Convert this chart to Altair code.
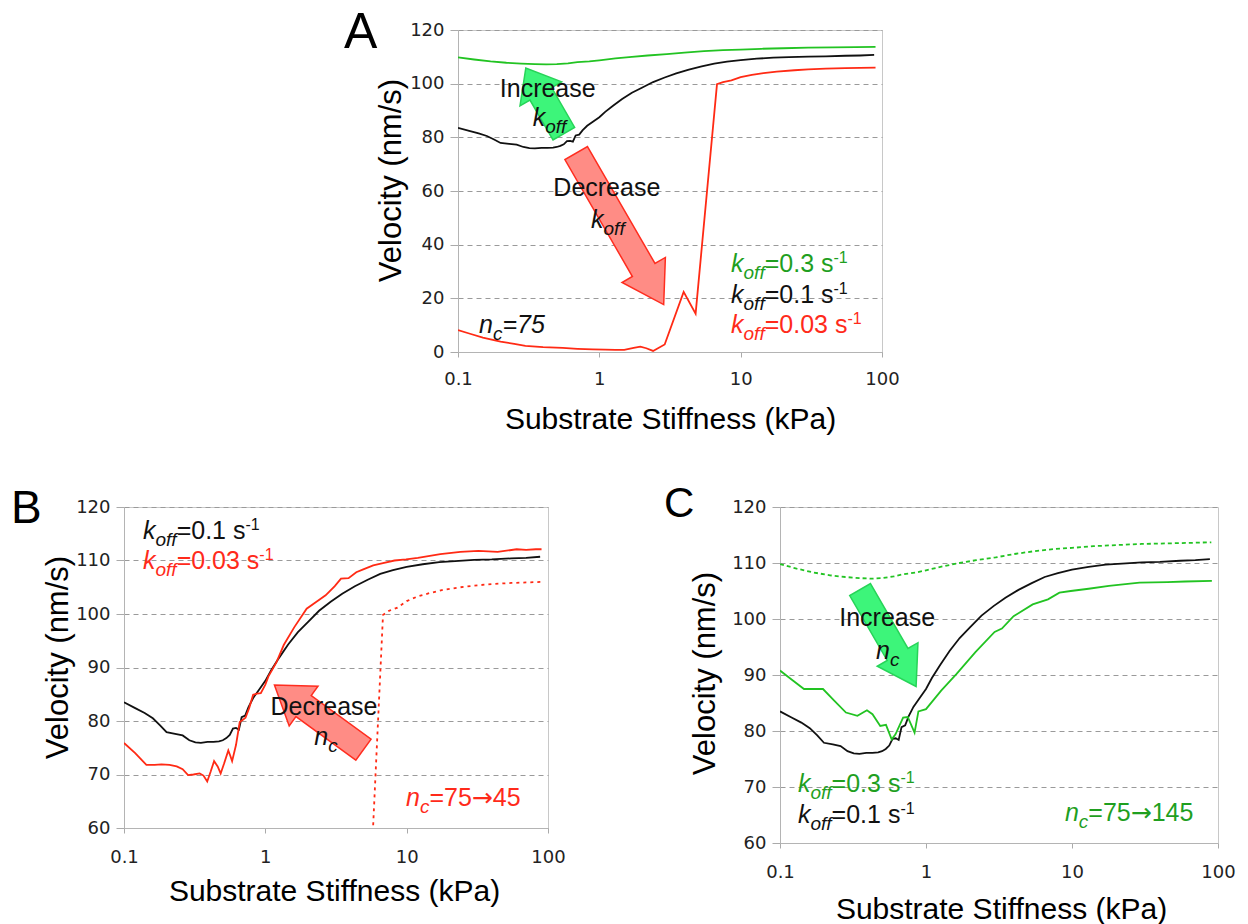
import altair as alt
import pandas as pd

# ---------------- data ----------------
# koff = 0.1 s-1, nc = 75  (black, all panels)
stiff_black = [0.1, 0.12, 0.14, 0.16, 0.18, 0.2, 0.23, 0.26, 0.29, 0.32, 0.35, 0.39, 0.43, 0.47,
               0.5, 0.53, 0.56, 0.59, 0.62, 0.65, 0.68, 0.72, 0.76, 0.82, 0.9, 1.0, 1.1, 1.25,
               1.45, 1.7, 2.0, 2.4, 2.9, 3.5, 4.3, 5.3, 6.5, 8.0, 10, 13, 17, 22, 30, 40, 55, 70, 88]
vel_black = [83.5, 82.4, 81.5, 80.5, 79.2, 77.9, 77.6, 77.3, 76.4, 76.0, 75.9, 76.1, 76.1, 76.2,
             76.4, 76.8, 77.4, 78.6, 78.7, 78.4, 80.7, 81.0, 82.6, 84.3, 85.8, 87.5, 89.5, 91.8,
             94.3, 96.6, 98.5, 100.6, 102.3, 103.8, 105.2, 106.4, 107.5, 108.2, 108.8, 109.3,
             109.7, 109.9, 110.1, 110.2, 110.4, 110.5, 110.7]

# koff = 0.3 s-1, nc = 75 (green; solid in A, dashed in C)
stiff_g75 = [0.1, 0.13, 0.17, 0.22, 0.28, 0.35, 0.42, 0.5, 0.6, 0.7, 0.85, 1.0, 1.3, 1.7, 2.2,
             3.0, 4.0, 5.5, 7.5, 10, 14, 20, 30, 45, 65, 90]
vel_g75 = [109.8, 109.0, 108.3, 107.8, 107.5, 107.3, 107.2, 107.3, 107.6, 108.0, 108.3, 108.7,
           109.4, 110.0, 110.5, 111.0, 111.6, 112.1, 112.5, 112.7, 113.0, 113.2, 113.4, 113.5,
           113.6, 113.7]

# koff = 0.03 s-1, nc = 75 (red; solid in A, dotted in B)
stiff_r75 = [0.1, 0.12, 0.15, 0.2, 0.25, 0.3, 0.4, 0.55, 0.7, 0.9, 1.1, 1.3, 1.5, 1.75, 1.95,
             2.15, 2.4, 2.9, 3.95, 4.8, 6.8, 7.5, 8.6, 10, 12, 14.5, 18, 24, 30, 40, 55, 70, 90]
vel_r75 = [8.2, 6.9, 5.4, 3.9, 3.0, 2.3, 1.8, 1.5, 1.2, 1.0, 0.9, 0.8, 0.8, 1.5, 2.0,
           1.4, 0.4, 2.8, 22.4, 14.3, 99.8, 100.6, 101.2, 102.4, 103.3, 103.9, 104.5, 105.0,
           105.3, 105.6, 105.8, 105.9, 106.0]

# koff = 0.03 s-1, nc = 45 (red solid, B)
stiff_r45 = [0.1, 0.12, 0.144, 0.165, 0.184, 0.21, 0.236, 0.26, 0.284, 0.31, 0.343, 0.365, 0.388,
             0.41, 0.434, 0.46, 0.483, 0.51, 0.547, 0.565, 0.582, 0.62, 0.659, 0.69, 0.724, 0.77,
             0.82, 0.87, 0.929, 1.0, 1.05, 1.2, 1.35, 1.6, 1.96, 2.3, 2.67, 3.1, 3.43, 3.88, 4.4,
             4.98, 5.8, 6.8, 8.2, 9.9, 12, 17.3, 24, 32.2, 44, 60, 70, 82, 90]
vel_r45 = [75.9, 74.0, 71.8, 71.8, 71.9, 71.8, 71.5, 71.0, 69.9, 70.0, 70.2, 69.8, 68.7,
           70.5, 72.5, 71.5, 70.2, 72.0, 74.5, 73.5, 72.5, 75.5, 79.8, 80.2, 80.6, 82.5,
           84.9, 85.1, 85.2, 86.8, 88.3, 91.0, 94.2, 97.5, 101.0, 102.3, 103.5, 105.2, 106.6,
           106.7, 107.8, 108.4, 109.1, 109.5, 110.0, 110.2, 110.5, 111.2, 111.6, 111.8, 111.6,
           112.1, 112.0, 112.1, 112.1]

# koff = 0.3 s-1, nc = 145 (green solid, C)
stiff_g145 = [0.1, 0.12, 0.146, 0.17, 0.197, 0.236, 0.283, 0.339, 0.394, 0.43, 0.486, 0.532,
              0.582, 0.618, 0.697, 0.75, 0.835, 0.887, 1.0, 1.27, 1.62, 2.18, 2.95, 3.31, 3.98,
              5.38, 6.85, 8.2, 9.8, 13, 17.9, 29, 45, 59.6, 90.8]
vel_g145 = [90.8, 89.2, 87.5, 87.5, 87.5, 85.4, 83.3, 82.7, 83.7, 83.0, 80.9, 81.1,
            78.5, 79.4, 82.4, 82.5, 79.7, 83.5, 83.9, 87.2, 90.2, 94.1, 97.7, 98.3, 100.5,
            102.6, 103.5, 104.7, 105.0, 105.4, 105.9, 106.5, 106.6, 106.7, 106.8]

x_ticks = [0.1, 1, 10, 100]
y_ticks_a = [0, 20, 40, 60, 80, 100, 120]
y_ticks_bc = [60, 70, 80, 90, 100, 110, 120]

# ---------------- style ----------------
FONT = "Liberation Sans"
TICKFONT = "DejaVu Sans"
BLACK = "#111111"
GREEN = "#22c322"
GREEN_TXT = "#1f9f1f"
RED = "#ff2a14"
RED_TXT = "#ff2a1a"
GFILL, GSTROKE = "#3df57a", "#27d458"
RFILL, RSTROKE = "#ff8c85", "#ff2d1f"
F, SUB, SUP = 25, 19, 16

W = {'k': .5, 'o': .556, 'f': .278, '=': .584, '.': .278, ' ': .278, 's': .5, '-': .333,
     'n': .556, 'c': .5, '\u2192': .838}
for d in '0123456789':
    W[d] = .556


def tw(t, size):
    return sum(W.get(ch, .556) for ch in t) * size


def arrow_path(L, wb, hl, wh):
    s = L / 2.0
    b, h, hx = wb / 2.0 / s, wh / 2.0 / s, 1 - hl / s
    return (f"M -1 {-b:.3f} L {hx:.3f} {-b:.3f} L {hx:.3f} {-h:.3f} L 1 0 "
            f"L {hx:.3f} {h:.3f} L {hx:.3f} {b:.3f} L -1 {b:.3f} Z")


KIND = {  # size, dy, style, font
    'n': (F, 0, 'normal', FONT),
    'i': (F, 0, 'italic', FONT),
    'sub': (SUB, 7, 'italic', FONT),
    'sup': (SUP, -9, 'normal', FONT),
    'arr': (F, 0, 'normal', TICKFONT),
}


def panel(w, h, ydom, yvals, xtitle_pos, ytitle_pos, xlabpad, lines, arrows, labels, letter):
    ax_x = alt.Axis(values=x_ticks, format='~g', title='Substrate Stiffness (kPa)',
                    titleX=xtitle_pos[0], titleY=xtitle_pos[1], titleAlign='center',
                    titleBaseline='alphabetic', titleFont=FONT, titleFontSize=30,
                    titleFontWeight='normal', titleColor='black', labelFont=TICKFONT,
                    labelFontSize=18, labelColor='#222222', labelBaseline='middle',
                    labelPadding=xlabpad, labelFlush=False, labelOverlap=False, tickSize=5,
                    tickColor='#aaaaaa', domainColor='#b4b4b4', grid=False)
    ax_y = alt.Axis(values=yvals, format='d', title='Velocity (nm/s)', titleAngle=270,
                    titleX=ytitle_pos[0], titleY=ytitle_pos[1], titleAlign='center',
                    titleBaseline='alphabetic', titleFont=FONT, titleFontSize=31,
                    titleFontWeight='normal', titleColor='black', labelFont=TICKFONT,
                    labelFontSize=18, labelColor='#222222', labelPadding=6, labelFlush=False,
                    tickSize=8, tickColor='#aaaaaa', domainColor='#b4b4b4', grid=True,
                    gridColor='#9a9a9a', gridDash=[5, 4], gridWidth=1)
    X = alt.X('x:Q', scale=alt.Scale(type='log', domain=[0.1, 100]), axis=ax_x)
    Y = alt.Y('y:Q', scale=alt.Scale(domain=ydom, nice=False, zero=False), axis=ax_y)
    layers = []
    for xs, ys, color, dash in lines:
        kw = dict(color=color, strokeWidth=1.8, clip=True)
        if dash:
            kw['strokeDash'] = dash
        layers.append(alt.Chart(pd.DataFrame({'x': xs, 'y': ys})).mark_line(**kw).encode(x=X, y=Y))
    for cx, cy, L, wb, hl, wh, ang, fill, stroke in arrows:
        layers.append(alt.Chart(pd.DataFrame({'x': [cx], 'y': [cy]})).mark_point(
            shape=arrow_path(L, wb, hl, wh), size=L * L, angle=ang, filled=True, fill=fill,
            stroke=stroke, strokeWidth=1.5, opacity=1).encode(x=X, y=Y))
    for lx, ly, color, align, segs in labels:
        off = 0.0
        for t, kind in segs:
            size, dy, style, font = KIND[kind]
            layers.append(alt.Chart(pd.DataFrame({'x': [lx], 'y': [ly], 't': [t]})).mark_text(
                align=align, baseline='alphabetic', dx=off, dy=dy, font=font, fontSize=size,
                fontStyle=style, color=color).encode(x=X, y=Y, text='t:N'))
            off += tw(t, size)
    ltxt, lx, ly, lsize = letter
    layers.append(alt.Chart(pd.DataFrame({'t': [ltxt]})).mark_text(
        align='left', baseline='alphabetic', font=FONT, fontSize=lsize, color='black').encode(
        x=alt.value(lx), y=alt.value(ly), text='t:N'))
    return alt.layer(*layers).properties(width=w, height=h)


def koff(val):
    return [('k', 'i'), ('off', 'sub'), (f'={val} s', 'n'), ('-1', 'sup')]


# ---------------- panel A ----------------
chart_a = panel(
    424, 322, [0, 120], y_ticks_a, (212, 76), (-58, 150), 22,
    lines=[(stiff_g75, vel_g75, GREEN, None), (stiff_black, vel_black, BLACK, None),
           (stiff_r75, vel_r75, RED, None)],
    arrows=[(0.4114, 93.6, 76, 25, 30, 48, 240, GFILL, GSTROKE),
            (1.399, 45.9, 175, 26, 40, 50, 60, RFILL, RSTROKE)],
    labels=[(8.55, 29.8, GREEN_TXT, 'left', koff('0.3')),
            (8.55, 18.4, BLACK, 'left', koff('0.1')),
            (8.55, 7.2, RED_TXT, 'left', koff('0.03')),
            (0.141, 7.2, BLACK, 'left', [('n', 'i'), ('c', 'sub'), ('=75', 'i')]),
            (0.4313, 95.0, BLACK, 'center', [('Increase', 'n')]),
            (0.338, 84.2, BLACK, 'left', [('k', 'i'), ('off', 'sub')]),
            (1.13, 58.1, BLACK, 'center', [('Decrease', 'n')]),
            (0.8735, 46.3, BLACK, 'left', [('k', 'i'), ('off', 'sub')])],
    letter=('A', -114, 18, 50))

# ---------------- panel B ----------------
chart_b = panel(
    424, 321, [60, 120], y_ticks_bc, (210, 72), (-57, 150), 24,
    lines=[(stiff_r75, vel_r75, RED, [3, 4]), (stiff_black, vel_black, BLACK, None),
           (stiff_r45, vel_r45, RED, None)],
    arrows=[(2.395, 80.7, 110, 26, 36, 49, 216, RFILL, RSTROKE)],
    labels=[(0.1363, 114.06, BLACK, 'left', koff('0.1')),
            (0.1363, 108.35, RED_TXT, 'left', koff('0.03')),
            (2.602, 81.1, BLACK, 'center', [('Decrease', 'n')]),
            (2.22, 75.55, BLACK, 'left', [('n', 'i'), ('c', 'sub')]),
            (9.9, 64.1, RED_TXT, 'left', [('n', 'i'), ('c', 'sub'), ('=75', 'n'),
                                          ('\u2192', 'arr'), ('45', 'n')])],
    letter=('B', -113, 16, 46))

# ---------------- panel C ----------------
chart_c = panel(
    438, 336, [60, 120], y_ticks_bc, (221, 75), (-66, 166), 24,
    lines=[(stiff_g75, vel_g75, GREEN, [4, 3]), (stiff_black, vel_black, BLACK, None),
           (stiff_g145, vel_g145, GREEN, None)],
    arrows=[(0.55, 96.6, 112, 24, 37, 47, 60, GFILL, GSTROKE)],
    labels=[(0.1328, 69.06, GREEN_TXT, 'left', koff('0.3')),
            (0.1328, 63.65, BLACK, 'left', koff('0.1')),
            (8.95, 63.96, GREEN_TXT, 'left', [('n', 'i'), ('c', 'sub'), ('=75', 'n'),
                                              ('\u2192', 'arr'), ('145', 'n')]),
            (0.542, 98.7, BLACK, 'center', [('Increase', 'n')]),
            (0.4545, 92.9, BLACK, 'left', [('n', 'i'), ('c', 'sub')])],
    letter=('C', -116, 10, 42))

spacer = alt.Chart(pd.DataFrame({'v': [0]})).mark_point(opacity=0).encode(
    x=alt.value(0), y=alt.value(0)).properties(
    width=334, height=322, view=alt.ViewBackground(stroke='transparent'))

top = alt.hconcat(spacer, chart_a, spacing=0, bounds='flush')
bottom = alt.hconcat(chart_b, chart_c, spacing=232, bounds='flush')

chart = alt.vconcat(top, bottom, spacing=477, bounds='flush').properties(
    padding={'left': 10, 'top': 7, 'right': 5, 'bottom': 0}
).configure_view(stroke='#c8c8c8', strokeWidth=1)

chart.save("out.html", embed_options={"renderer": "svg", "actions": False})
